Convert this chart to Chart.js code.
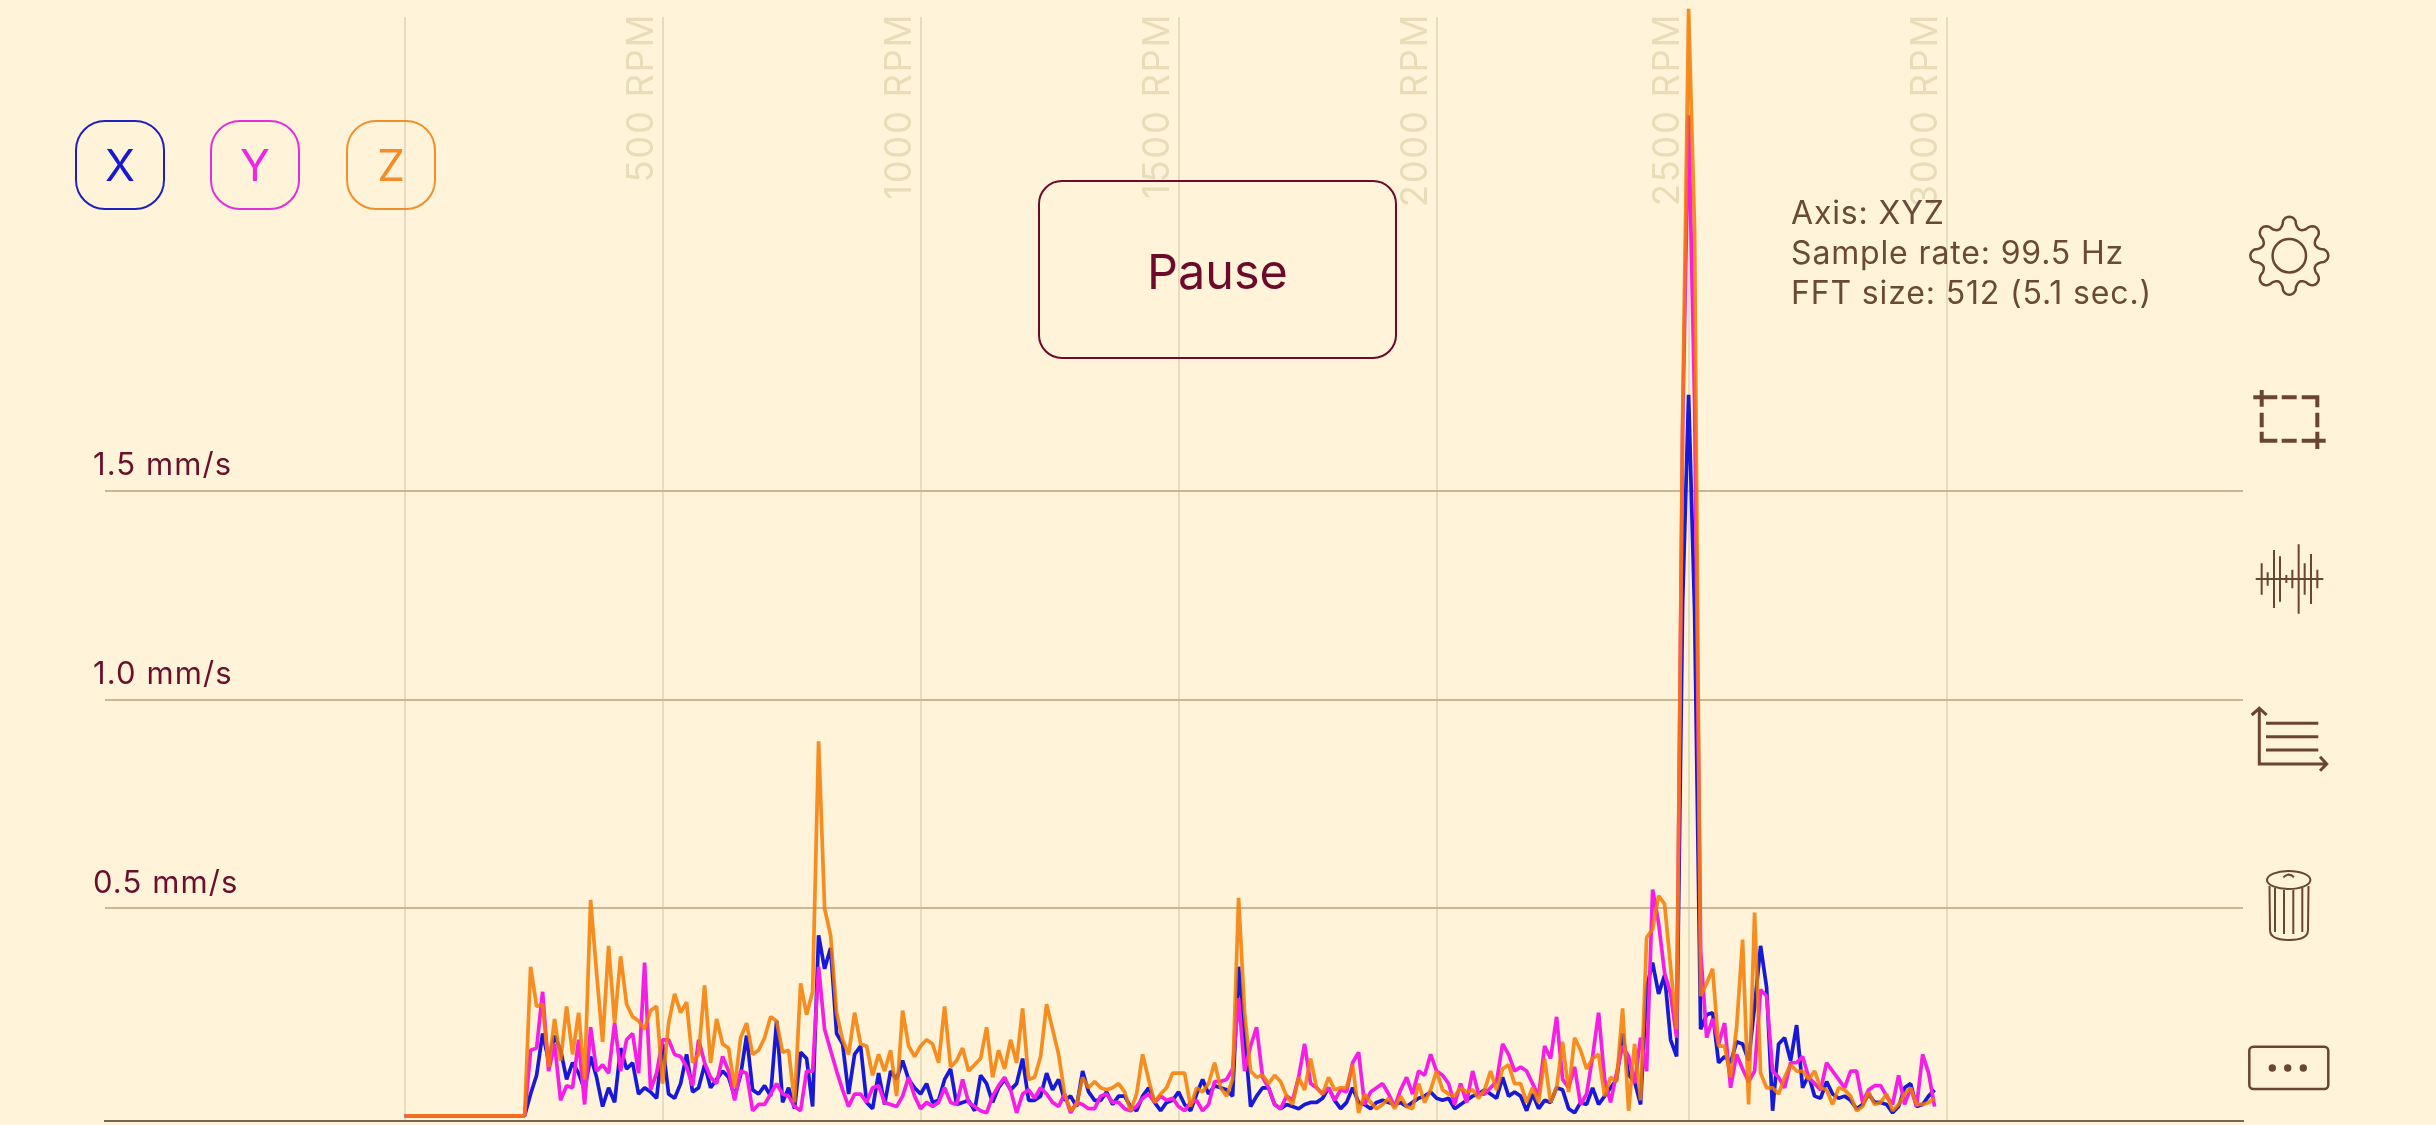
<!DOCTYPE html>
<html>
<head>
<meta charset="utf-8">
<title>Vibration FFT</title>
<script src="https://cdn.jsdelivr.net/npm/chart.js@4"></script>
<style>
html, body { margin: 0; padding: 0; background: #fff4d9; overflow: hidden; }
body { width: 2436px; height: 1125px; position: relative; font-family: Inter, Roboto, sans-serif; }
canvas { position: absolute; left: 0; top: 0; }
svg { position: absolute; left: 0; top: 0; }
.axisBtn { position: absolute; top: 120px; width: 86px; height: 86px; border: 2px solid; border-radius: 30px; text-align: center; line-height: 86px; font-size: 44px; }
#pause { position: absolute; left: 1038px; top: 180px; width: 355px; height: 175px; border: 2px solid #6b0a2b; border-radius: 24px; text-align: center; line-height: 179px; font-size: 48.5px; color: #6b0a2b; }
#info { position: absolute; left: 1791px; top: 193px; font-size: 32px; letter-spacing: 0.85px; line-height: 40px; color: #6b4a35; white-space: nowrap; }
</style>
</head>
<body>
<canvas id="fftChart" width="2436" height="1125"></canvas>
<div class="axisBtn" style="left:75px;color:#1818d4;border-color:#2020c0">X</div>
<div class="axisBtn" style="left:210px;color:#ee28e2;border-color:#e030d8">Y</div>
<div class="axisBtn" style="left:346px;color:#f68c28;border-color:#f0902c">Z</div>
<div id="pause">Pause</div>
<div id="info">Axis: XYZ<br>Sample rate: 99.5 Hz<br>FFT size: 512 (5.1 sec.)</div>
<svg id="icons" width="2436" height="1125" fill="none" stroke="#6b4533" stroke-linecap="butt"></svg>
<script>
"use strict";

// mm/s per FFT bin. first 21 bins are the flat part
var xAxisValues = [
    0.003,0.003,0.003,0.003,0.003,0.003,0.003,0.003,0.003,0.003,0.003,0.003,0.003,0.003,0.003,0.003,0.003,0.003,0.003,0.003,
    0.003,.055,.10,.20,.135,.195,.16,.09,.13,.105,.065,.145,.095,.025,.07,.035,.165,.115,.13,.055,
    .07,.06,.045,.175,.055,.045,.08,.15,.06,.07,.125,.07,.09,.11,.095,.05,.10,.195,.065,.055,
    .075,.05,.23,.035,.07,.02,.155,.14,.025,.435,.355,.405,.20,.175,.055,.15,.17,.035,.02,.105,
    .03,.11,.09,.135,.09,.07,.055,.08,.035,.04,.09,.115,.03,.035,.04,.015,.10,.08,.035,.07,
    .09,.065,.08,.14,.04,.04,.05,.105,.065,.09,.04,.05,.025,.11,.06,.04,.04,.06,.03,.05,
    .05,.025,.015,.05,.07,.035,.015,.035,.04,.06,.03,.015,.055,.09,.055,.075,.07,.065,.05,.36,
    .195,.025,.05,.07,.07,.03,.02,.03,.025,.02,.03,.035,.035,.045,.07,.04,.02,.035,.07,.035,
    .03,.02,.035,.04,.035,.03,.035,.025,.035,.045,.05,.06,.045,.04,.045,.02,.03,.04,.05,.055,
    .065,.055,.045,.095,.05,.06,.05,.015,.055,.02,.04,.035,.07,.065,.02,.01,.035,.03,.07,.03,
    .05,.07,.09,.20,.10,.085,.03,.31,.37,.295,.34,.185,.145,1.23,1.73,1.21,.21,.245,.25,.13,
    .145,.13,.18,.175,.135,.265,.41,.31,.015,.175,.19,.135,.22,.07,.10,.05,.045,.085,.055,.045,
    .05,.04,.02,.03,.055,.035,.035,.03,.01,.025,.07,.08,.025,.03,.05,.065
];
var yAxisValues = [
    0.003,0.003,0.003,0.003,0.003,0.003,0.003,0.003,0.003,0.003,0.003,0.003,0.003,0.003,0.003,0.003,0.003,0.003,0.003,0.003,
    0.003,.16,.165,.30,.11,.175,.04,.075,.07,.185,.03,.215,.11,.125,.105,.225,.11,.185,.20,.105,
    .37,.065,.105,.185,.185,.15,.145,.12,.075,.185,.13,.095,.08,.145,.11,.04,.11,.105,.015,.03,
    .03,.055,.08,.055,.05,.025,.015,.11,.11,.36,.21,.16,.11,.065,.025,.055,.055,.035,.07,.075,
    .035,.03,.025,.05,.095,.05,.02,.035,.025,.035,.07,.035,.03,.09,.035,.025,.015,.01,.05,.075,
    .095,.065,.01,.055,.065,.045,.07,.055,.035,.025,.055,.01,.035,.03,.02,.02,.05,.055,.035,.035,
    .02,.015,.025,.045,.055,.035,.05,.04,.045,.025,.015,.035,.04,.015,.03,.085,.085,.09,.115,.285,
    .11,.17,.215,.095,.07,.03,.02,.05,.04,.095,.175,.08,.07,.055,.07,.04,.065,.06,.13,.155,
    .03,.06,.07,.08,.055,.025,.065,.095,.055,.11,.10,.15,.11,.10,.08,.03,.08,.035,.11,.055,
    .055,.07,.085,.175,.15,.11,.12,.11,.08,.05,.17,.14,.24,.09,.07,.12,.03,.055,.145,.25,
    .09,.035,.105,.17,.145,.08,.19,.11,.545,.465,.345,.295,.19,1.65,2.40,1.71,.40,.19,.235,.175,
    .225,.07,.15,.115,.085,.11,.305,.29,.11,.095,.07,.13,.13,.145,.095,.08,.065,.13,.11,.09,
    .07,.11,.11,.035,.065,.075,.075,.05,.03,.10,.03,.07,.025,.15,.105,.025
];
var zAxisValues = [
    0.003,0.003,0.003,0.003,0.003,0.003,0.003,0.003,0.003,0.003,0.003,0.003,0.003,0.003,0.003,0.003,0.003,0.003,0.003,0.003,
    0.003,.36,.265,.27,.12,.235,.135,.265,.15,.25,.09,.52,.345,.18,.41,.225,.385,.27,.24,.23,
    .21,.255,.265,.08,.225,.295,.25,.275,.13,.15,.315,.13,.235,.175,.165,.07,.19,.225,.15,.16,
    .19,.24,.23,.155,.16,.035,.32,.245,.30,.90,.50,.435,.25,.185,.15,.25,.175,.17,.10,.15,
    .11,.16,.05,.255,.17,.145,.17,.185,.175,.13,.265,.12,.135,.165,.11,.125,.14,.215,.095,.16,
    .115,.185,.13,.26,.09,.095,.145,.27,.21,.15,.055,.015,.03,.095,.07,.085,.07,.065,.07,.08,
    .06,.015,.055,.15,.09,.035,.055,.07,.105,.105,.105,.025,.07,.06,.08,.13,.07,.05,.09,.525,
    .25,.11,.095,.10,.08,.10,.085,.05,.03,.095,.065,.14,.07,.055,.095,.065,.07,.07,.125,.01,
    .055,.035,.02,.03,.045,.02,.05,.025,.02,.08,.035,.065,.11,.065,.055,.05,.07,.06,.065,.045,
    .065,.11,.065,.115,.125,.08,.08,.035,.07,.035,.14,.035,.07,.18,.06,.19,.16,.115,.14,.15,
    .05,.095,.085,.26,.015,.175,.04,.43,.45,.53,.51,.36,.21,1.67,2.655,2.125,.29,.32,.355,.17,
    .17,.095,.215,.425,.03,.49,.105,.07,.07,.055,.095,.125,.11,.11,.09,.11,.07,.065,.03,.07,
    .065,.05,.015,.025,.06,.03,.035,.055,.015,.03,.055,.07,.03,.03,.035,.045
];
var rpmTicks = [0, 500, 1000, 1500, 2000, 2500, 3000];
var mmTicks = [0.5, 1.0, 1.5];

var sampleRate = 99.5;
var fftSize = 512;
var binRpm = sampleRate / fftSize * 60;

function toPoints(values) {
    return values.map(function(v, i) { return { x: i, y: v }; });
}

// app snaps the rpm lines to the nearest bin
function rpmToBin(rpm) {
    return Math.round(rpm / binRpm);
}

var rpmLabels = {
    id: "rpmLabels",
    beforeDraw: function(chart) {
        chart.ctx.letterSpacing = "1.1px";
    },
    beforeDatasetsDraw: function(chart) {
        var ctx = chart.ctx;
        ctx.save();
        ctx.font = "36.5px Inter, Roboto, sans-serif";
        ctx.letterSpacing = "1.6px";
        ctx.fillStyle = "#e8dcb9";
        ctx.textAlign = "right";
        ctx.textBaseline = "alphabetic";
        rpmTicks.forEach(function(rpm) {
            if (rpm == 0) return;
            var px = chart.scales.x.getPixelForValue(rpmToBin(rpm));
            ctx.save();
            ctx.translate(px - 10, 13);
            ctx.rotate(-Math.PI / 2);
            ctx.fillText(rpm + " RPM", 0, 0);
            ctx.restore();
        });
        ctx.restore();
    }
};

var ctx = document.getElementById("fftChart").getContext("2d");
var fftChart = new Chart(ctx, {
    type: "line",
    data: {
        datasets: [
            { label: "X", data: toPoints(xAxisValues), borderColor: "#1818d8", order: 3 },
            { label: "Y", data: toPoints(yAxisValues), borderColor: "#f41ee6", order: 2 },
            { label: "Z", data: toPoints(zAxisValues), borderColor: "rgba(244,122,0,0.85)", order: 1 }
        ]
    },
    plugins: [rpmLabels],
    options: {
        responsive: false,
        animation: false,
        parsing: false,
        normalized: true,
        layout: { padding: { left: 105, right: 193, top: 17, bottom: 4 } },
        elements: {
            point: { radius: 0 },
            line: { borderWidth: 3.7, tension: 0, borderJoinStyle: "bevel", capBezierPoints: false, fill: false }
        },
        datasets: { line: { clip: false } },
        plugins: { legend: { display: false }, tooltip: { enabled: false } },
        scales: {
            x: {
                type: "linear",
                min: (105 - 404.6) / 6,
                max: (2243 - 404.6) / 6,
                afterBuildTicks: function(scale) {
                    scale.ticks = rpmTicks.map(function(rpm) { return { value: rpmToBin(rpm) }; });
                },
                afterFit: function(scale) {
                    scale.height = 0;
                    scale.paddingLeft = 0;
                    scale.paddingRight = 0;
                },
                ticks: { display: false },
                grid: { color: "#e7dcbe", lineWidth: 2, drawTicks: false },
                border: { color: "#7a6650", width: 2 }
            },
            y: {
                type: "linear",
                min: -0.0096,
                max: 2.6354,
                afterBuildTicks: function(scale) {
                    scale.ticks = mmTicks.map(function(v) { return { value: v }; });
                },
                // labels sit inside the plot, so the axis takes no room
                afterFit: function(scale) {
                    scale.width = 0;
                    scale.paddingTop = 0;
                    scale.paddingBottom = 0;
                },
                ticks: {
                    mirror: true,
                    padding: -12,
                    labelOffset: -25,
                    color: "#6b0f2b",
                    font: { family: "Inter, Roboto, sans-serif", size: 31 },
                    callback: function(v) { return v.toFixed(1) + " mm/s"; }
                },
                grid: { color: "#cdb592", lineWidth: 2, drawTicks: false },
                border: { display: false }
            }
        }
    }
});

// toolbar icons on the right
function gearPath(cx, cy) {
    var d = "";
    for (var a = 0; a < 360; a += 2) {
        var t = a * Math.PI / 180;
        var c = Math.cos(8 * t);
        var r = 33.5 + 5.5 * (c < 0 ? -1 : 1) * Math.pow(Math.abs(c), 0.6);
        d += (a == 0 ? "M" : "L") + (cx + r * Math.sin(t)).toFixed(1) + " " + (cy - r * Math.cos(t)).toFixed(1);
    }
    return d + "Z";
}
function waveBars() {
    var bars = [[185,47],[203,20],[222,87],[240,68],[259,12],[277,28],[296,104],[314,47],[333,75],[352,28]];
    return bars.map(function(b) {
        var x = 2200 + b[0] / 3;
        return "M" + x + " " + (579 - b[1] / 3) + "V" + (579 + b[1] / 3);
    }).join("");
}
document.getElementById("icons").innerHTML =
    '<path d="' + gearPath(2289.3, 255.7) + '" stroke-width="2.5"/>' +
    '<circle cx="2289.3" cy="255.7" r="16.7" stroke-width="2.5"/>' +
    // crop
    '<path stroke-width="4" d="M2253.3 397.3H2277.3M2281.7 397.3H2296.7M2301.7 397.3H2319.3' +
    'M2261.7 390V406.7M2261.7 412.7V427.3M2261.7 431.7V442.3' +
    'M2260 440.7H2277.3M2281.7 440.7H2296.7M2301.7 440.7H2325.7' +
    'M2317.3 397.3V407.3M2317.3 412.7V427.3M2317.3 431.7V449"/>' +
    // waveform
    '<path stroke-width="2" d="M2255.7 579H2323.3' + waveBars() + '"/>' +
    // axes
    '<path stroke-width="3" d="M2259.3 708.3V764H2326.7M2251.7 715L2259.3 708.3L2266.7 715M2320 756.7L2326.7 764L2320 770.7' +
    'M2266 723.3H2318.3M2266 736.7H2318.3M2266 750H2318.3"/>' +
    // trash
    '<g stroke-width="2"><ellipse cx="2288.7" cy="880" rx="21.7" ry="9"/>' +
    '<path d="M2283.3 877.3Q2288.7 872 2294 877.3"/>' +
    '<path d="M2269.5 886L2270 930Q2270 940 2289 940Q2308 940 2308 930L2308.5 886"/>' +
    '<path d="M2275 888V932M2284 890V934M2293.3 890V934M2302.3 888V932"/></g>' +
    // more
    '<rect x="2249.3" y="1046.7" width="79" height="42.3" rx="4" stroke-width="2.5"/>' +
    '<g fill="#6b4533" stroke="none"><circle cx="2272.3" cy="1068" r="3.7"/><circle cx="2287.7" cy="1068" r="3.7"/><circle cx="2303.3" cy="1068" r="3.7"/></g>';
</script>
</body>
</html>
